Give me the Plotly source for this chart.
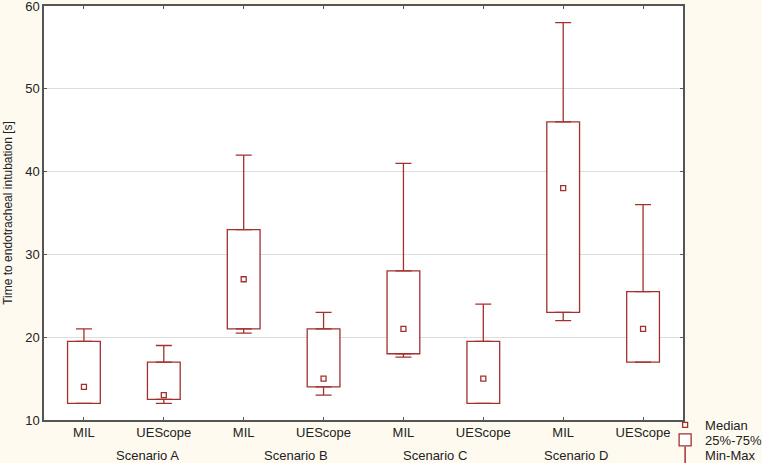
import plotly.graph_objects as go

labels = ["MIL", "UEScope", "MIL", "UEScope", "MIL", "UEScope", "MIL", "UEScope"]
scenarios = ["Scenario A", "Scenario B", "Scenario C", "Scenario D"]
scenario_label_pos = [0.8, 2.66, 4.39, 6.16]

minimum = [12, 12, 20.5, 13, 17.6, 12, 22, 17]
q1 = [12, 12.5, 21, 14, 18, 12, 23, 17]
median = [14, 13, 27, 15, 21, 15, 38, 21]
q3 = [19.5, 17, 33, 21, 28, 19.5, 46, 25.5]
maximum = [21, 19, 42, 23, 41, 24, 58, 36]

color = "#a3302f"
xs = list(range(len(labels)))

fig = go.Figure()

# Whiskers (upper: q3 -> max, lower: q1 -> min)
fig.add_trace(go.Scatter(
    x=xs, y=q3, mode="markers", marker=dict(size=0.1, color=color, opacity=0),
    error_y=dict(type="data", symmetric=False,
                 array=[mx - q for mx, q in zip(maximum, q3)],
                 arrayminus=[0] * len(xs), color=color, thickness=1.3, width=8),
    showlegend=False, hoverinfo="skip"))
fig.add_trace(go.Scatter(
    x=xs, y=q1, mode="markers", marker=dict(size=0.1, color=color, opacity=0),
    error_y=dict(type="data", symmetric=False, array=[0] * len(xs),
                 arrayminus=[q - mn for q, mn in zip(q1, minimum)],
                 color=color, thickness=1.3, width=8),
    showlegend=False, hoverinfo="skip"))

# Boxes 25%-75%
fig.add_trace(go.Bar(
    x=xs, y=[b - a for a, b in zip(q1, q3)], base=q1, width=0.41,
    marker=dict(color="white", line=dict(color=color, width=1.3)),
    name="25%-75%", legend="legend2"))

# Median
fig.add_trace(go.Scatter(
    x=xs, y=median, mode="markers",
    marker=dict(symbol="square-open", size=5, color=color, line=dict(width=1.3)),
    name="Median", legend="legend"))

# Legend entry for Min-Max
fig.add_trace(go.Scatter(
    x=[None], y=[None], mode="markers",
    marker=dict(symbol="line-ns-open", size=12, color=color, line=dict(width=1.5, color=color)),
    name="Min-Max", legend="legend3"))

for sx, s in zip(scenario_label_pos, scenarios):
    fig.add_annotation(x=sx, y=0, xref="x", yref="paper", yanchor="top",
                       yshift=-26, text=s, showarrow=False,
                       font=dict(size=13, color="#222222"))

leg_common = dict(x=0.972, xanchor="left", yanchor="middle", xref="paper",
                  bgcolor="rgba(0,0,0,0)", font=dict(size=13), itemwidth=30)

fig.update_layout(
    width=762, height=463,
    margin=dict(l=44, r=79, t=6, b=43, autoexpand=False),
    paper_bgcolor="#fffaf0",
    plot_bgcolor="white",
    font=dict(family="Liberation Sans, Arial, sans-serif", size=13, color="#222222"),
    barmode="overlay",
    showlegend=True,
    legend=dict(y=-0.0121, **leg_common),
    legend2=dict(y=-0.0483, **leg_common),
    legend3=dict(y=-0.0845, **leg_common),
)
fig.update_xaxes(
    range=[-0.5, 7.5], tickmode="array", tickvals=xs, ticktext=labels,
    showgrid=False, zeroline=False, showline=True, linecolor="#555555", linewidth=1.5,
    mirror="ticks", ticks="inside", ticklen=3, tickcolor="#555555",
)
fig.update_yaxes(
    range=[10, 60], tickvals=[10, 20, 30, 40, 50, 60], ticklabeloverflow="allow",
    showgrid=True, gridcolor="#dddddd", gridwidth=1, zeroline=False,
    showline=True, linecolor="#555555", linewidth=1.5,
    mirror="ticks", ticks="inside", ticklen=3, tickcolor="#555555",
    title=dict(text="Time to endotracheal intubation [s]", font=dict(size=12), standoff=10),
)

fig.write_html("out.html", config={"displayModeBar": False},
               post_script="document.body.style.margin='0';document.body.style.overflow='hidden';")
